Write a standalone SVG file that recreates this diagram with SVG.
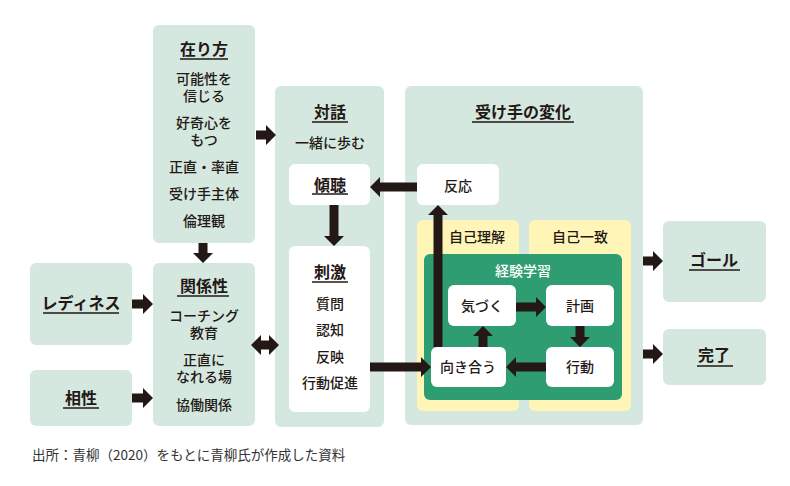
<svg xmlns="http://www.w3.org/2000/svg" width="790" height="486" viewBox="0 0 790 486">
<defs>
<style>
.box{fill:#d4e8df}
.wbox{fill:#ffffff}
.ybox{fill:#fff5b6}
.gbox{fill:#2e9d72}
text{font-family:"Noto Sans CJK JP","Noto Sans",sans-serif;fill:#231815;text-anchor:middle}
.t{font-size:16px;font-weight:700}
.i{font-size:14px;font-weight:500}
.w{fill:#ffffff}
.ul{stroke:#231815;stroke-width:1.5}
.ar{fill:#231815}
.note{font-size:13.5px;font-weight:400;fill:#333333;text-anchor:start}
</style>
</defs>
<rect width="790" height="486" fill="#ffffff"/>

<g id="arikata">
<rect class="box" x="153" y="25" width="102" height="218" rx="6"/>
<text class="t" x="204" y="55">在り方</text>
<line class="ul" x1="180" y1="59" x2="228" y2="59"/>
<text class="i" x="204" y="84">可能性を<tspan x="204" dy="17">信じる</tspan></text>
<text class="i" x="204" y="128">好奇心を<tspan x="204" dy="17">もつ</tspan></text>
<text class="i" x="204" y="172">正直・率直</text>
<text class="i" x="204" y="199">受け手主体</text>
<text class="i" x="204" y="226">倫理観</text>
</g>

<g id="kankeisei">
<rect class="box" x="153" y="263" width="102" height="163" rx="6"/>
<text class="t" x="204" y="292">関係性</text>
<line class="ul" x1="177" y1="296" x2="229" y2="296"/>
<text class="i" x="204" y="321">コーチング<tspan x="204" dy="17">教育</tspan></text>
<text class="i" x="204" y="365">正直に<tspan x="204" dy="17">なれる場</tspan></text>
<text class="i" x="204" y="410">協働関係</text>
</g>

<g id="readiness">
<rect class="box" x="30" y="263" width="102" height="82" rx="6"/>
<text class="t" x="81" y="309">レディネス</text>
<line class="ul" x1="43" y1="313" x2="119" y2="313"/>
</g>

<g id="aisho">
<rect class="box" x="30" y="370" width="102" height="56" rx="6"/>
<text class="t" x="81" y="404">相性</text>
<line class="ul" x1="63" y1="408" x2="99" y2="408"/>
</g>

<g id="taiwa">
<rect class="box" x="275" y="86" width="109" height="341" rx="6"/>
<text class="t" x="330" y="118">対話</text>
<line class="ul" x1="312" y1="122" x2="348" y2="122"/>
<text class="i" x="330" y="148">一緒に歩む</text>
</g>

<g id="keicho">
<rect class="wbox" x="289" y="164" width="81" height="41" rx="6"/>
<text class="t" x="330" y="191">傾聴</text>
<line class="ul" x1="312" y1="194" x2="348" y2="194"/>
</g>

<g id="shigeki">
<rect class="wbox" x="289" y="246" width="81" height="166" rx="6"/>
<text class="t" x="330" y="278">刺激</text>
<line class="ul" x1="312" y1="282" x2="348" y2="282"/>
<text class="i" x="330" y="309">質問</text>
<text class="i" x="330" y="335">認知</text>
<text class="i" x="330" y="362">反映</text>
<text class="i" x="330" y="388">行動促進</text>
</g>

<g id="ukete-henka">
<rect class="box" x="405" y="86" width="238" height="339" rx="6"/>
<text class="t" x="523" y="118">受け手の変化</text>
<line class="ul" x1="472" y1="122" x2="574" y2="122"/>
</g>

<g id="hanno">
<rect class="wbox" x="417" y="164" width="82" height="41" rx="6"/>
<text class="i" x="458" y="191">反応</text>
</g>

<g id="jiko-rikai">
<rect class="ybox" x="417" y="220" width="102" height="191" rx="6"/>
<text class="i" x="477" y="242">自己理解</text>
</g>

<g id="jiko-icchi">
<rect class="ybox" x="529" y="220" width="102" height="191" rx="6"/>
<text class="i" x="580" y="242">自己一致</text>
</g>

<g id="keiken-gakushu">
<rect class="gbox" x="424" y="254" width="198" height="146" rx="6"/>
<text class="i w" x="523" y="276">経験学習</text>
</g>

<g id="kizuku">
<rect class="wbox" x="448" y="285" width="68" height="41" rx="6"/>
<text class="i" x="482" y="311">気づく</text>
</g>

<g id="keikaku">
<rect class="wbox" x="546" y="285" width="68" height="41" rx="6"/>
<text class="i" x="580" y="311">計画</text>
</g>

<g id="mukiau">
<rect class="wbox" x="431" y="347" width="75" height="40" rx="6"/>
<text class="i" x="468" y="372">向き合う</text>
</g>

<g id="kodo">
<rect class="wbox" x="546" y="347" width="68" height="40" rx="6"/>
<text class="i" x="580" y="372">行動</text>
</g>

<g id="goal">
<rect class="box" x="663" y="221" width="103" height="81" rx="6"/>
<text class="t" x="714" y="266">ゴール</text>
<line class="ul" x1="689" y1="270" x2="740" y2="270"/>
</g>

<g id="kanryo">
<rect class="box" x="663" y="329" width="103" height="56" rx="6"/>
<text class="t" x="714" y="361">完了</text>
<line class="ul" x1="697" y1="366" x2="733" y2="366"/>
</g>

<g id="connectors">
<polygon class="ar" points="256,130.5 266,130.5 266,125 276,135 266,145 266,139.5 256,139.5"/>
<polygon class="ar" points="198.5,243 207.5,243 207.5,253 213,253 203,263 193,253 198.5,253"/>
<polygon class="ar" points="132,299.5 143,299.5 143,294 153,304 143,314 143,308.5 132,308.5"/>
<polygon class="ar" points="132,393.5 143,393.5 143,388 153,398 143,408 143,402.5 132,402.5"/>
<polygon class="ar" points="251,345 261,335 261,340.5 269,340.5 269,335 279,345 269,355 269,349.5 261,349.5 261,355"/>
<polygon class="ar" points="417,182.5 380,182.5 380,177 370,187 380,197 380,191.5 417,191.5"/>
<polygon class="ar" points="329.5,205 338.5,205 338.5,236 344,236 334,246 324,236 329.5,236"/>
<polygon class="ar" points="370,362.5 421,362.5 421,357 431,367 421,377 421,371.5 370,371.5"/>
<polygon class="ar" points="433.5,347 442.5,347 442.5,215 448,215 438,205 428,215 433.5,215"/>
<polygon class="ar" points="516,302.5 536,302.5 536,297 546,307 536,317 536,311.5 516,311.5"/>
<polygon class="ar" points="575.5,326 584.5,326 584.5,337 590,337 580,347 570,337 575.5,337"/>
<polygon class="ar" points="546,362.5 516,362.5 516,357 506,367 516,377 516,371.5 546,371.5"/>
<polygon class="ar" points="478.5,347 487.5,347 487.5,336 493,336 483,326 473,336 478.5,336"/>
<polygon class="ar" points="643,256.5 653,256.5 653,251 663,261 653,271 653,265.5 643,265.5"/>
<polygon class="ar" points="643,349.5 653,349.5 653,344 663,354 653,364 653,358.5 643,358.5"/>
</g>

<text class="note" x="32" y="460">出所：青柳（2020）をもとに青柳氏が作成した資料</text>
</svg>
